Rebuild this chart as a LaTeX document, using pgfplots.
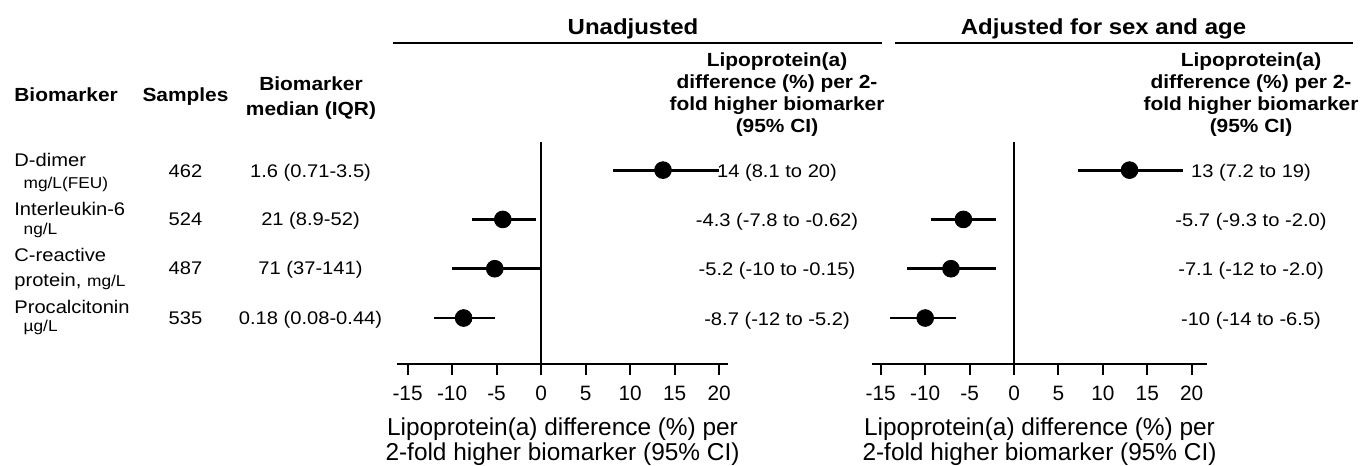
\documentclass[border=0pt]{standalone}
\usepackage{pgfplots}
\pgfplotsset{compat=1.18}
\usepackage{pgfplotstable}
\usepackage{fontspec}
\setmainfont{Liberation Sans}
\newfontfamily\tf[FakeStretch=1.1]{Liberation Sans}
\newcommand\hdr{\tf\bfseries\fontsize{9.5bp}{10bp}\selectfont}
\newcommand\bd{\tf\fontsize{9.15bp}{10bp}\selectfont}
\newcommand\sm{\tf\fontsize{7.85bp}{9bp}\selectfont}
\newcommand\ttl{\tf\bfseries\fontsize{10.9bp}{12bp}\selectfont}
\newcommand\axl{\fontsize{12.2bp}{13bp}\selectfont}
\newcommand\tkl{\fontsize{10.4bp}{11bp}\selectfont}

\pgfplotstableread{
y x lo hi
4 13.7 8.1 20
3 -4.3 -7.8 -0.62
2 -5.2 -10 -0.15
1 -8.7 -12 -5.2
}\unadj
\pgfplotstableread{
y x lo hi
4 13.0 7.2 19
3 -5.7 -9.3 -2.0
2 -7.1 -12 -2.0
1 -10 -14 -6.5
}\adj

\pgfplotsset{
  forest/.style={
    scale only axis, height=111bp,
    ymin=0.067, ymax=4.57,
    axis x line*=bottom, axis y line=none,
    xtick={-15,-10,-5,0,5,10,15,20},
    xticklabels={-15,-10,-5,0,5,10,15,20},
    tick align=outside, major tick length=5.5bp,
    tick style={black, line width=1bp},
    axis line style={black, line width=1bp},
    xticklabel style={font=\tkl, anchor=base, yshift=-12.5bp},
    clip=false,
  },
  ci/.style={only marks, black, mark=*, mark size=4.2bp,
    mark options={fill=black, draw=black},
    error bars/.cd, x dir=both, x explicit, error mark=none,
    error bar style={line width=1.4bp, black}},
}

\begin{document}
\begin{tikzpicture}
\begin{scope}[x=0.5bp,y=-0.5bp]
\path[use as bounding box] (0,0) rectangle (1360,464);
\end{scope}

\begin{axis}[forest, at={(198.65bp,-182bp)}, anchor=south west,
  width=165.5bp, xmin=-16.15, xmax=21.04]
\addplot[black, line width=1bp] coordinates {(0,0.067) (0,4.57)};
\addplot[ci] table[x=x, y=y,
  x error plus expr=\thisrow{hi}-\thisrow{x},
  x error minus expr=\thisrow{x}-\thisrow{lo}] {\unadj};
\end{axis}

\begin{axis}[forest, at={(436.15bp,-182bp)}, anchor=south west,
  width=167.2bp, xmin=-15.95, xmax=21.69]
\addplot[black, line width=1bp] coordinates {(0,0.067) (0,4.57)};
\addplot[ci] table[x=x, y=y,
  x error plus expr=\thisrow{hi}-\thisrow{x},
  x error minus expr=\thisrow{x}-\thisrow{lo}] {\adj};
\end{axis}

\begin{scope}[x=0.5bp,y=-0.5bp, every node/.style={inner sep=0pt, anchor=base}]
% titles
\node at (633,34) {\ttl Unadjusted};
\node at (1103.5,34) {\ttl Adjusted for sex and age};
\draw[line width=0.8bp] (393,43) -- (882,43);
\draw[line width=0.8bp] (895,43) -- (1353,43);
% column headers of estimates
\foreach \cx in {777,1251} {
  \node at (\cx,66) {\hdr Lipoprotein(a)};
  \node at (\cx,88) {\hdr difference (\%) per 2-};
  \node at (\cx,110) {\hdr fold higher biomarker};
  \node at (\cx,132) {\hdr (95\% CI)};
}
% table headers
\node[anchor=base west] at (14,101.5) {\hdr Biomarker};
\node at (185.5,101.5) {\hdr Samples};
\node at (311,90) {\hdr Biomarker};
\node at (311,115) {\hdr median (IQR)};
% rows
\node[anchor=base west] at (14,166.7) {\bd D-dimer};
\node[anchor=base west] at (23.3,188.3) {\sm mg/L(FEU)};
\node at (185.5,177) {\bd 462};
\node at (310.5,177) {\bd 1.6 (0.71-3.5)};

\node[anchor=base west] at (14,215) {\bd Interleukin-6};
\node[anchor=base west] at (23.3,234.3) {\sm ng/L};
\node at (185.5,225) {\bd 524};
\node at (310.5,225) {\bd 21 (8.9-52)};

\node[anchor=base west] at (14,261.7) {\bd C-reactive};
\node[anchor=base west] at (14,286.7) {\bd protein, {\sm mg/L}};
\node at (185.5,274.3) {\bd 487};
\node at (310.5,274.3) {\bd 71 (37-141)};

\node[anchor=base west] at (14,313.3) {\bd Procalcitonin};
\node[anchor=base west] at (23.3,331.5) {\sm µg/L};
\node at (185.5,324) {\bd 535};
\node at (310.5,324) {\bd 0.18 (0.08-0.44)};
% estimate texts
\node at (777,177.5) {\bd 14 (8.1 to 20)};
\node at (777,226.5) {\bd -4.3 (-7.8 to -0.62)};
\node at (777,275.5) {\bd -5.2 (-10 to -0.15)};
\node at (777,325.5) {\bd -8.7 (-12 to -5.2)};
\node at (1251,177.5) {\bd 13 (7.2 to 19)};
\node at (1251,226.5) {\bd -5.7 (-9.3 to -2.0)};
\node at (1251,275.5) {\bd -7.1 (-12 to -2.0)};
\node at (1251,325.5) {\bd -10 (-14 to -6.5)};
% axis labels
\node at (562.5,435) {\axl Lipoprotein(a) difference (\%) per};
\node at (562.5,460) {\axl 2-fold higher biomarker (95\% CI)};
\node at (1039.5,435) {\axl Lipoprotein(a) difference (\%) per};
\node at (1039.5,460) {\axl 2-fold higher biomarker (95\% CI)};
\end{scope}
\end{tikzpicture}
\end{document}
